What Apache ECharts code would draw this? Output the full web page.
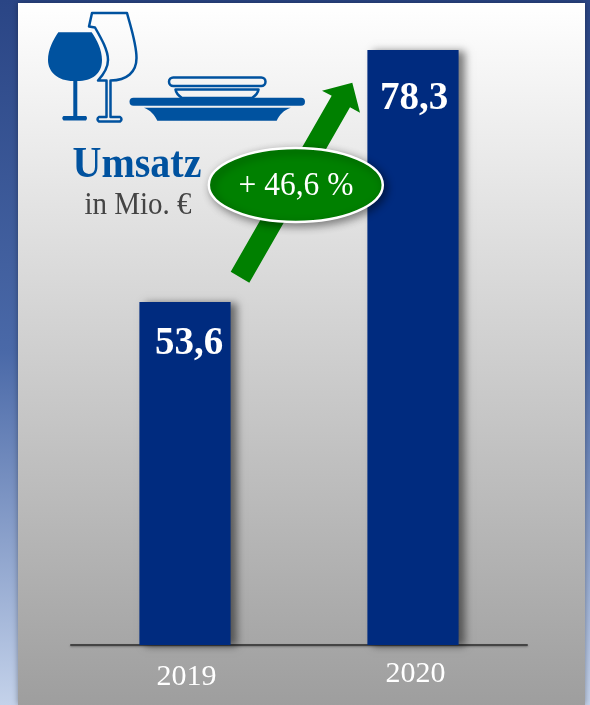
<!DOCTYPE html>
<html><head><meta charset="utf-8">
<style>html,body{margin:0;padding:0;background:#2d4a8a}#c{width:590px;height:705px}</style>
<script src="https://cdn.jsdelivr.net/npm/echarts@6/dist/echarts.min.js"></script>
</head><body><div id="c"></div>
<script>
const categories = ['2019', '2020'];
const revenue = [53.6, 78.3];
const growthLabel = '+ 46,6 %';
const titleText = 'Umsatz';
const unitText = 'in Mio. €';

const SERIF = '"Liberation Serif","Times New Roman",serif';
const ICON = '#00529f';
const GREEN = '#008000';

const icons = {
  glassFilled: 'M58.3 32.3 L91.7 32.3 C97 40 102 50 102 60 C102 74 92 81 77.3 81 L77.3 116 L86 116 Q88 118 86 120.5 L63.5 120.5 Q61 118 63.5 116 L73.3 116 L73.3 81 C58 81 48 72 48 60 C48 50 53 40 58.3 32.3 Z',
  glassOutline: 'M92 13 L127 13 C131 28 136.5 44 136.5 58 C136.5 72 127 80.5 110.5 80.5 L110.5 117 L120 117 Q123 119 120 121.5 L99 121.5 Q96 119 99 117 L106.5 117 L106.5 80.5 L98 80.5 C104 74 108 68 108 60 C108 50 101 38 95 27.5 L89 26.5 Z',
  bowl: 'M175.5 89.5 L258.5 89.5 C258 93 255 96 252 98 L182 98 C179 96 176 93 175.5 89.5 Z',
  plate: 'M144 107.7 L290.7 107.7 C284 110 279 115 276.7 120.7 L157.3 120.7 C155 115 150 110 144 107.7 Z'
};
Object.keys(icons).forEach(k => echarts.graphic.registerShape(k, echarts.graphic.extendPath(icons[k])));

const chart = echarts.init(document.getElementById('c'), null, {renderer: 'canvas'});
const line = (c, w) => ({fill: 'none', stroke: c, lineWidth: w, lineJoin: 'round'});

chart.setOption({
  animation: false,
  backgroundColor: {type: 'linear', x: 0, y: 0, x2: 0, y2: 1, colorStops: [
    {offset: 0, color: '#2a4585'}, {offset: 0.5, color: '#4a69a8'}, {offset: 1, color: '#c4d2ea'}]},
  grid: {left: 71, right: 63, top: 50, bottom: 60},
  xAxis: {
    type: 'category', data: categories,
    axisTick: {show: false},
    axisLine: {lineStyle: {color: '#444', width: 2, shadowColor: 'rgba(0,0,0,.3)', shadowBlur: 2, shadowOffsetY: 1}},
    axisLabel: {
      margin: 14,
      formatter: (v, i) => i === 0 ? `{a|${v}}` : `{b|${v}}`,
      rich: {
        a: {fontFamily: SERIF, fontSize: 30, color: '#fff', padding: [3, 0, 0, 3]},
        b: {fontFamily: SERIF, fontSize: 30, color: '#fff', padding: [0, 0, 0, 5]}
      }
    }
  },
  yAxis: {type: 'value', min: 20, max: 78.3, show: false, splitLine: {show: false}},
  series: [{
    type: 'bar', data: revenue, barWidth: '40%', z: 5,
    itemStyle: {color: '#002b7f', shadowColor: 'rgba(0,0,0,.5)', shadowBlur: 8, shadowOffsetX: 6, shadowOffsetY: 1},
    label: {
      show: true, position: 'insideTop', distance: 20, color: '#fff',
      fontFamily: SERIF, fontWeight: 'bold', fontSize: 39,
      formatter: p => String(p.value).replace('.', ',')
    },
    labelLayout: p => p.dataIndex === 0 ? {dx: 4, dy: 2} : {dx: 1, dy: 9}
  }],
  graphic: [
    {type: 'rect', z: -10, silent: true, shape: {x: 18, y: 3, width: 567, height: 702},
     style: {fill: {type: 'linear', x: 0, y: 0, x2: 0, y2: 1, colorStops: [
       {offset: 0, color: '#ffffff'}, {offset: 1, color: '#9e9e9e'}]},
       shadowColor: 'rgba(0,0,0,.35)', shadowBlur: 6}},
    {type: 'glassFilled', z: 10, silent: true, style: {fill: ICON}},
    {type: 'glassOutline', z: 10, silent: true, style: line(ICON, 2.5)},
    {type: 'rect', z: 10, silent: true, shape: {x: 169, y: 77.5, width: 96.5, height: 8.5, r: 4.5}, style: line(ICON, 2.5)},
    {type: 'bowl', z: 10, silent: true, style: line(ICON, 2.5)},
    {type: 'rect', z: 10, silent: true, shape: {x: 129.5, y: 97.7, width: 175.5, height: 8, r: 4}, style: {fill: ICON}},
    {type: 'plate', z: 10, silent: true, style: {fill: ICON}},
    {type: 'text', z: 10, silent: true, x: 137, y: 165, scaleY: 1.12, style: {text: titleText, fontFamily: SERIF, fontWeight: 'bold', fontSize: 40, fill: ICON, align: 'center', verticalAlign: 'middle'}},
    {type: 'text', z: 10, silent: true, x: 138, y: 206, scaleY: 1.1, style: {text: unitText, fontFamily: SERIF, fontSize: 29, fill: '#444', align: 'center', verticalAlign: 'middle'}},
    {type: 'polygon', z: 20, silent: true,
     shape: {points: [[230.7, 271.7], [249.3, 282.7], [350, 107.3], [360, 112.7], [352.3, 82.7], [322, 90.7], [331.7, 95.7]]},
     style: {fill: GREEN}},
    {type: 'ellipse', z: 21, silent: true, shape: {cx: 295.8, cy: 185, rx: 87, ry: 37},
     style: {fill: GREEN, stroke: '#fff', lineWidth: 2.5, shadowColor: 'rgba(0,0,0,.45)', shadowBlur: 8, shadowOffsetX: 3, shadowOffsetY: 3}},
    {type: 'text', z: 22, silent: true, x: 296, y: 186, scaleX: 1.05, scaleY: 1.12, style: {text: growthLabel, fontFamily: SERIF, fontSize: 30, fill: '#fff', align: 'center', verticalAlign: 'middle'}}
  ]
});
</script></body></html>
